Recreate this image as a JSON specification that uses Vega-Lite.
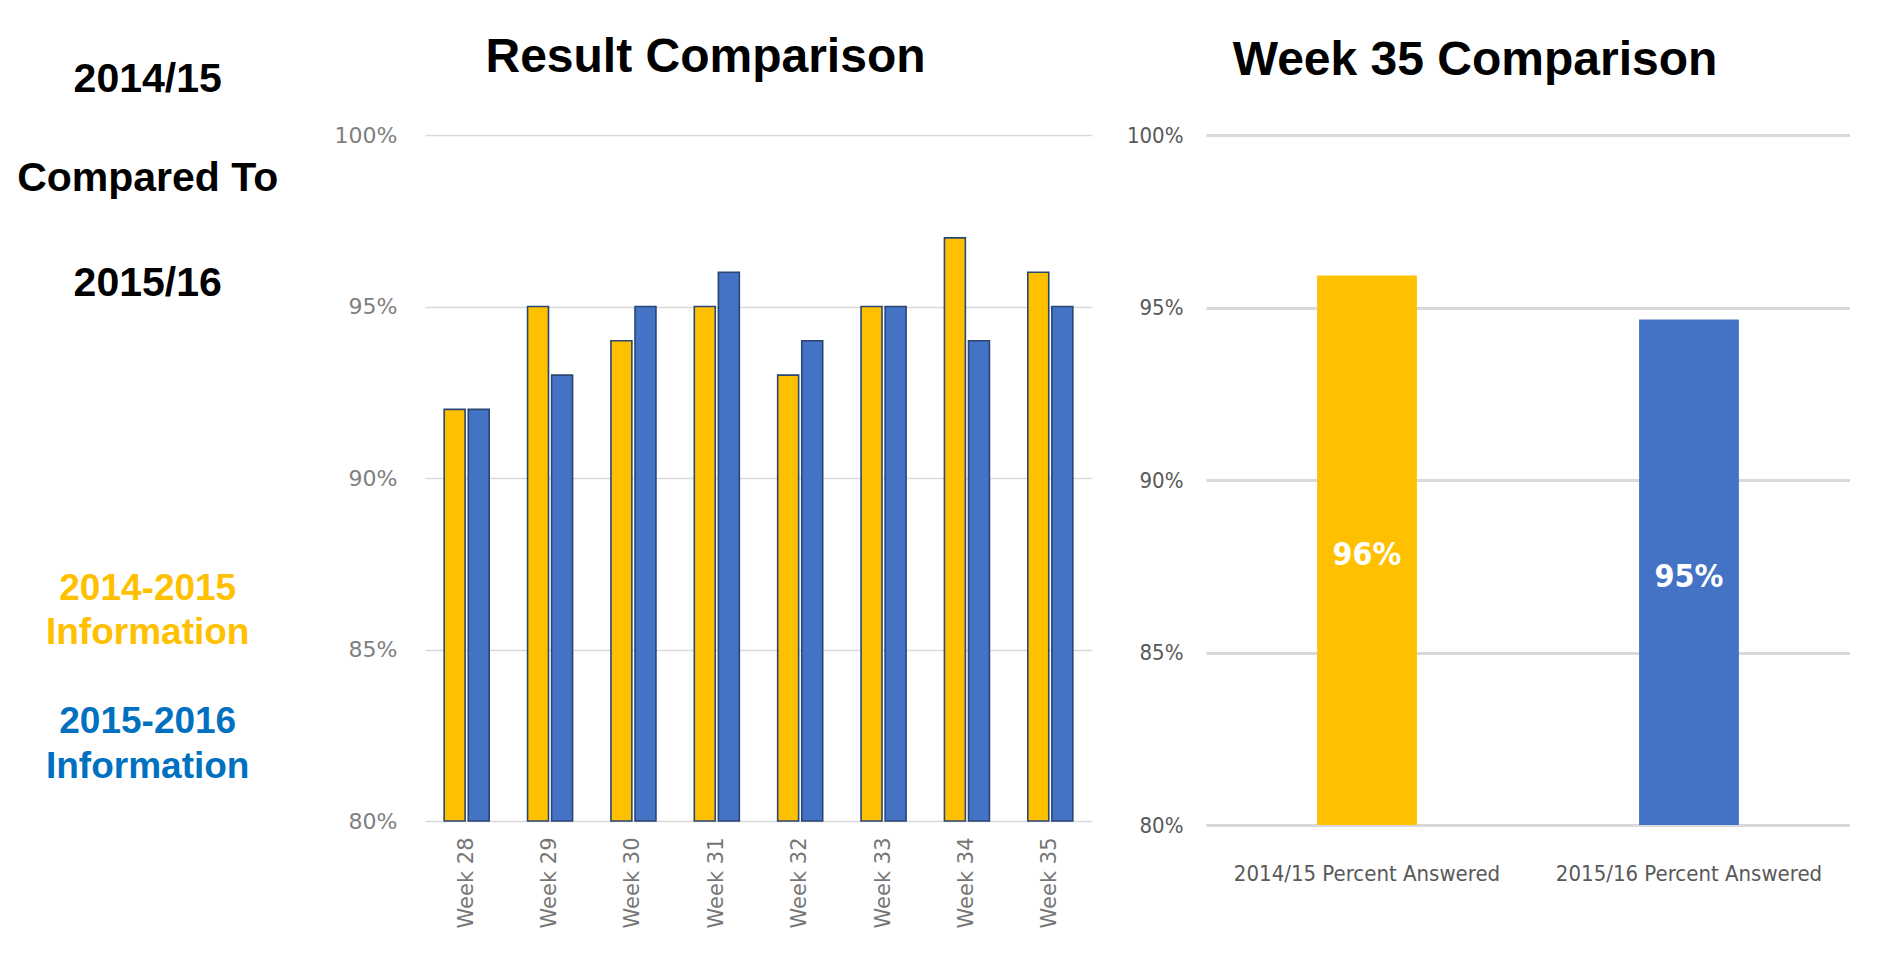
{
  "$schema": "https://vega.github.io/schema/vega-lite/v6.json",
  "background": "white",
  "padding": {"left": 0, "top": 34, "right": 0, "bottom": 0},
  "spacing": 114,
  "bounds": "flush",
  "resolve": {"scale": {"color": "independent"}},
  "config": {
    "view": {"stroke": null},
    "axis": {"domain": false, "ticks": false, "tickSize": 0}
  },
  "hconcat": [
    {
      "width": 311,
      "height": 686,
      "data": {
        "values": [
          {"label": "2014/15", "slot": -1.12, "group": "head"},
          {"label": "Compared To", "slot": 0.9, "group": "head"},
          {"label": "2015/16", "slot": 3.04, "group": "head"},
          {"label": "2014-2015", "slot": 9.26, "group": "2014-2015"},
          {"label": "Information", "slot": 10.16, "group": "2014-2015"},
          {"label": "2015-2016", "slot": 11.98, "group": "2015-2016"},
          {"label": "Information", "slot": 12.9, "group": "2015-2016"}
        ]
      },
      "encoding": {
        "x": {"datum": 0.475, "type": "quantitative", "scale": {"domain": [0, 1]}, "axis": null},
        "y": {"field": "slot", "type": "quantitative", "scale": {"domain": [0, 14], "reverse": true, "zero": false, "nice": false}, "axis": null},
        "text": {"field": "label", "type": "nominal"},
        "color": {"field": "group", "type": "nominal", "scale": {"domain": ["head", "2014-2015", "2015-2016"], "range": ["#000000", "#FFC000", "#0070C0"]}, "legend": null}
      },
      "layer": [
        {
          "transform": [{"filter": "datum.group === 'head'"}],
          "mark": {"type": "text", "font": "Liberation Sans", "fontWeight": "bold", "fontSize": 41, "baseline": "middle", "align": "center"}
        },
        {
          "transform": [{"filter": "datum.group !== 'head'"}],
          "mark": {"type": "text", "font": "Liberation Sans", "fontWeight": "bold", "fontSize": 37, "baseline": "middle", "align": "center"}
        }
      ]
    },
    {
      "width": 667,
      "height": 686,
      "title": {"text": "Result Comparison", "frame": "group", "anchor": "middle", "dx": -53, "offset": 4, "baseline": "alphabetic", "fontSize": 48, "font": "Liberation Sans", "fontWeight": "bold", "color": "#000000"},
      "data": {
        "values": [
          {"week": "Week 28", "series": "2014-2015", "value": 0.92},
          {"week": "Week 28", "series": "2015-2016", "value": 0.92},
          {"week": "Week 29", "series": "2014-2015", "value": 0.95},
          {"week": "Week 29", "series": "2015-2016", "value": 0.93},
          {"week": "Week 30", "series": "2014-2015", "value": 0.94},
          {"week": "Week 30", "series": "2015-2016", "value": 0.95},
          {"week": "Week 31", "series": "2014-2015", "value": 0.95},
          {"week": "Week 31", "series": "2015-2016", "value": 0.96},
          {"week": "Week 32", "series": "2014-2015", "value": 0.93},
          {"week": "Week 32", "series": "2015-2016", "value": 0.94},
          {"week": "Week 33", "series": "2014-2015", "value": 0.95},
          {"week": "Week 33", "series": "2015-2016", "value": 0.95},
          {"week": "Week 34", "series": "2014-2015", "value": 0.97},
          {"week": "Week 34", "series": "2015-2016", "value": 0.94},
          {"week": "Week 35", "series": "2014-2015", "value": 0.96},
          {"week": "Week 35", "series": "2015-2016", "value": 0.95}
        ]
      },
      "mark": {"type": "bar", "stroke": "#2A4674", "strokeWidth": 1.6},
      "encoding": {
        "x": {"field": "week", "type": "nominal", "sort": null, "scale": {"paddingInner": 0.46, "paddingOuter": 0.23},
          "axis": {"title": null, "labelAngle": -90, "labelFont": "DejaVu Sans", "labelFontSize": 21, "labelColor": "#767676", "labelPadding": 16, "grid": false}},
        "xOffset": {"field": "series", "type": "nominal", "scale": {"paddingInner": 0.13, "paddingOuter": 0}},
        "y": {"field": "value", "type": "quantitative", "scale": {"domain": [0.8, 1.0], "zero": false, "nice": false},
          "axis": {"title": null, "values": [0.8, 0.85, 0.9, 0.95, 1.0], "format": ".0%", "labelFont": "DejaVu Sans", "labelFontSize": 22, "labelColor": "#7f7f7f", "labelPadding": 28, "grid": true, "gridColor": "#d9d9d9", "gridWidth": 1.5}},
        "y2": {"datum": 0.8},
        "color": {"field": "series", "type": "nominal", "scale": {"domain": ["2014-2015", "2015-2016"], "range": ["#FFC000", "#4472C4"]}, "legend": null}
      }
    },
    {
      "width": 644,
      "height": 690,
      "title": {"text": "Week 35 Comparison", "frame": "group", "anchor": "middle", "dx": -53, "offset": 1, "baseline": "alphabetic", "fontSize": 48, "font": "Liberation Sans", "fontWeight": "bold", "color": "#000000"},
      "data": {
        "values": [
          {"category": "2014/15 Percent Answered", "value": 0.9593},
          {"category": "2015/16 Percent Answered", "value": 0.9465}
        ]
      },
      "encoding": {
        "x": {"field": "category", "type": "nominal", "sort": null, "scale": {"paddingInner": 0.69, "paddingOuter": 0.345},
          "axis": {"title": null, "labelAngle": 0, "labelFont": "DejaVu Sans Condensed, Liberation Sans", "labelFontSize": 22, "labelColor": "#595959", "labelBaseline": "top", "labelPadding": 38, "labelLimit": 400, "grid": false}}
      },
      "layer": [
        {
          "mark": {"type": "bar"},
          "encoding": {
            "y": {"field": "value", "type": "quantitative", "scale": {"domain": [0.8, 1.0], "zero": false, "nice": false},
              "axis": {"title": null, "values": [0.8, 0.85, 0.9, 0.95, 1.0], "format": ".0%", "labelFont": "DejaVu Sans Condensed, Liberation Sans", "labelFontSize": 22, "labelColor": "#595959", "labelPadding": 23, "grid": true, "gridColor": "#d9d9d9", "gridWidth": 3}},
            "y2": {"datum": 0.8},
            "color": {"field": "category", "type": "nominal", "scale": {"domain": ["2014/15 Percent Answered", "2015/16 Percent Answered"], "range": ["#FFC000", "#4472C4"]}, "legend": null}
          }
        },
        {
          "mark": {"type": "text", "font": "DejaVu Sans Condensed, Liberation Sans", "fontWeight": "bold", "fontSize": 32, "color": "#ffffff", "baseline": "middle", "align": "center", "dy": 5},
          "encoding": {
            "y": {"field": "value", "type": "quantitative", "scale": {"domain": [0.8, 1.2], "zero": false, "nice": false}, "axis": null},
            "text": {"field": "value", "type": "quantitative", "format": ".0%"}
          }
        }
      ],
      "resolve": {"scale": {"y": "independent"}}
    }
  ]
}
